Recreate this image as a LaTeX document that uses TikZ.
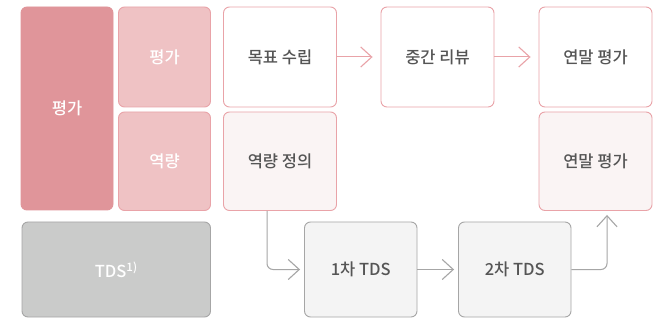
\documentclass[tikz,border=0pt]{standalone}
\usepackage{fontspec}
\setmainfont{Noto Sans CJK KR Medium}
\usetikzlibrary{arrows.meta}
\definecolor{pinkdark}{HTML}{E0959A}
\definecolor{pinklight}{HTML}{EFC2C4}
\definecolor{pinkline}{HTML}{E9A3A8}
\definecolor{pinkpale}{HTML}{FAF4F4}
\definecolor{grayfill}{HTML}{CACBCA}
\definecolor{grayline}{HTML}{A6A6A6}
\definecolor{graypale}{HTML}{F4F4F4}
\definecolor{txt}{HTML}{555555}
\tikzset{
  box/.style={rounded corners=6pt, line width=0.9pt, inner sep=0pt, align=center,
    font=\fontsize{16.5}{18}\selectfont, text=txt},
  flowpink/.style={draw=pinkline, line width=1pt, shorten >=8pt, -{Straight Barb[length=11pt,width=20pt,line width=1.1pt]}},
  flowgray/.style={draw=grayline, line width=1pt, rounded corners=6pt, shorten >=4pt, -{Straight Barb[length=11pt,width=20pt,line width=1.1pt]}},
}
\newcommand{\boxat}[7]{% name, x1,y1,x2,y2, style, text
  \path[#6] (#2,#3) rectangle (#4,#5);
  \node[box, #6, draw=none, fill=none, minimum width={(#4-#2)*1pt}, minimum height={(#5-#3)*1pt}] (#1) at ({(#2+#4)/2},{(#3+#5)/2}) {#7};
}
\begin{document}
\begin{tikzpicture}[x=1pt,y=-1pt]
\useasboundingbox[fill=white] (0,0) rectangle (658,320);
\boxat{big}{21}{7}{113}{210}{box, fill=pinkdark, draw=pinkdark, text=white}{평가}
\boxat{eval}{118.5}{7}{210.5}{107}{box, fill=pinklight, draw=pinkline, text=white}{평가}
\boxat{comp}{118.5}{112}{210.5}{210.5}{box, fill=pinklight, draw=pinkline, text=white}{역량}
\boxat{tds}{22}{222}{210.5}{317}{box, fill=grayfill, draw=grayline, text=white}{TDS\textsuperscript{1)}}
\boxat{goal}{223.5}{7}{336.5}{107}{box, fill=white, draw=pinkline}{목표 수립}
\boxat{compdef}{223.5}{112}{336.5}{210.5}{box, fill=pinkpale, draw=pinkline}{역량 정의}
\boxat{mid}{381}{7}{494}{107}{box, fill=white, draw=pinkline}{중간 리뷰}
\boxat{yearA}{539}{7}{652}{107}{box, fill=white, draw=pinkline}{연말 평가}
\boxat{yearB}{539}{112}{652}{210.5}{box, fill=pinkpale, draw=pinkline}{연말 평가}
\boxat{tdsA}{304.5}{222}{417}{317}{box, fill=graypale, draw=grayline}{1차 TDS}
\boxat{tdsB}{458.5}{222}{571}{317}{box, fill=graypale, draw=grayline}{2차 TDS}
\draw[flowpink] (goal.east) -- (mid.west);
\draw[flowpink] (mid.east) -- (yearA.west);
\draw[flowgray] (compdef.south -| 267,0) |- (tdsA.west);
\draw[flowgray] (tdsA.east) -- (tdsB.west);
\draw[flowgray] (tdsB.east) -| (yearB.south -| 607,0);
\end{tikzpicture}
\end{document}
